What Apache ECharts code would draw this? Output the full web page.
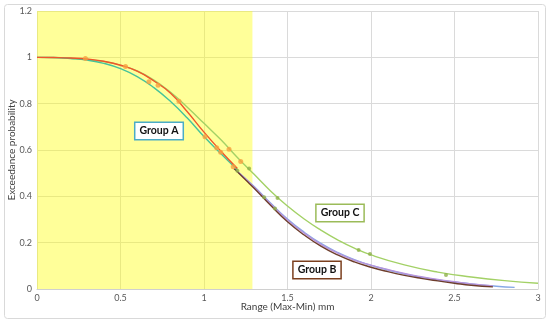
<!DOCTYPE html>
<html><head><meta charset="utf-8">
<script src="https://cdn.jsdelivr.net/npm/echarts@6/dist/echarts.min.js"></script>
<style>html,body{margin:0;padding:0;background:#fff}#c{width:550px;height:325px}</style>
</head><body><div id="c"></div>
<script>
// ---- data ----
const xTicks = [0, 0.5, 1, 1.5, 2, 2.5, 3];
const yTicks = [0, 0.2, 0.4, 0.6, 0.8, 1, 1.2];
const shadedRange = [0, 1.29];

const groupAFitX = [0, 0.1, 0.2, 0.3, 0.4, 0.5, 0.6, 0.7, 0.8, 0.9, 1.0, 1.1, 1.2];
const groupAFitY = [1, 0.999, 0.997, 0.993, 0.983, 0.966, 0.94, 0.898, 0.845, 0.765, 0.677, 0.596, 0.52];
const groupATealX = [0, 0.1, 0.2, 0.3, 0.4, 0.5, 0.6, 0.7, 0.8, 0.9, 1.0, 1.1, 1.2];
const groupATealY = [1, 0.999, 0.995, 0.988, 0.974, 0.951, 0.917, 0.869, 0.809, 0.738, 0.658, 0.585, 0.515];
const groupAPointsX = [0.29, 0.53, 0.67, 0.725, 0.85, 1.006, 1.076, 1.1, 1.15, 1.175, 1.22];
const groupAPointsY = [0.995, 0.96, 0.895, 0.88, 0.81, 0.657, 0.61, 0.59, 0.603, 0.528, 0.55];

const groupCFitX = [0, 0.2, 0.4, 0.5, 0.6, 0.7, 0.8, 0.9, 1.0, 1.1, 1.2, 1.3, 1.4, 1.5, 1.6, 1.7, 1.8, 1.9, 2.0, 2.2, 2.4, 2.6, 2.8, 3.0];
const groupCFitY = [1, 0.996, 0.982, 0.966, 0.941, 0.902, 0.849, 0.785, 0.715, 0.645, 0.568, 0.495, 0.422, 0.358, 0.302, 0.254, 0.212, 0.176, 0.147, 0.104, 0.073, 0.052, 0.036, 0.025];
const groupCPointsX = [1.27, 1.44, 1.926, 1.994, 2.449];
const groupCPointsY = [0.52, 0.393, 0.168, 0.151, 0.06];

const groupBDarkX = [1.18, 1.25, 1.3, 1.4, 1.5, 1.6, 1.7, 1.8, 1.9, 2.0, 2.1, 2.2, 2.3, 2.4, 2.5, 2.6, 2.73];
const groupBDarkY = [0.52, 0.47, 0.435, 0.36, 0.29, 0.233, 0.185, 0.147, 0.117, 0.094, 0.075, 0.059, 0.046, 0.035, 0.025, 0.016, 0.009];
const groupBPurpleX = [1.18, 1.3, 1.4, 1.5, 1.6, 1.7, 1.8, 1.9, 2.0, 2.1, 2.2, 2.3, 2.4, 2.5, 2.6, 2.73];
const groupBPurpleY = [0.52, 0.44, 0.367, 0.298, 0.241, 0.193, 0.155, 0.125, 0.103, 0.084, 0.067, 0.053, 0.041, 0.031, 0.022, 0.013];
const groupBBlueX = [1.18, 1.3, 1.4, 1.5, 1.6, 1.7, 1.8, 1.9, 2.0, 2.2, 2.4, 2.6, 2.75, 2.86];
const groupBBlueY = [0.52, 0.442, 0.37, 0.302, 0.245, 0.197, 0.158, 0.127, 0.102, 0.065, 0.039, 0.022, 0.012, 0.007];
const groupBPointsX = [1.2, 1.36, 1.425];
const groupBPointsY = [0.51, 0.396, 0.348];

const labels = [
  {text: 'Group A', x: 0.73, y: 0.684, color: '#4bacc6'},
  {text: 'Group C', x: 1.817, y: 0.327, color: '#9bbb59'},
  {text: 'Group B', x: 1.679, y: 0.082, color: '#7b3f1e'}
];

const zip = (xs, ys) => xs.map((x, i) => [x, ys[i]]);

const chart = echarts.init(document.getElementById('c'));
const FONT = 'Lato';
const lineSeries = (name, xs, ys, color, z) => ({
  name, type: 'line', data: zip(xs, ys), smooth: true, showSymbol: false, z: z || 3,
  lineStyle: {color, width: 1.4}, itemStyle: {color}
});
const pointSeries = (name, xs, ys, color, size) => ({
  name, type: 'scatter', data: zip(xs, ys), symbol: 'circle', symbolSize: size || 4, z: 5,
  itemStyle: {color}
});

chart.setOption({
  animation: false,
  textStyle: {fontFamily: FONT},
  grid: {left: 37, right: 12, top: 11, bottom: 36, containLabel: false, outerBoundsMode: 'none'},
  xAxis: {
    type: 'value', min: xTicks[0], max: xTicks[xTicks.length - 1], interval: 0.5,
    name: 'Range (Max-Min) mm', nameLocation: 'middle', nameGap: 13, nameMoveOverlap: false,
    nameTextStyle: {fontSize: 10, color: '#404040', fontFamily: FONT},
    axisLine: {lineStyle: {color: '#d0d0d0'}}, axisTick: {show: false},
    axisLabel: {fontSize: 9, color: '#595959', margin: 5, formatter: v => String(v)},
    splitLine: {show: true, lineStyle: {color: '#dadada'}}
  },
  yAxis: {
    type: 'value', min: yTicks[0], max: yTicks[yTicks.length - 1], interval: 0.2,
    name: 'Exceedance probability', nameLocation: 'middle', nameGap: 20, nameRotate: 90, nameMoveOverlap: false,
    nameTextStyle: {fontSize: 10, color: '#404040', fontFamily: FONT},
    axisLine: {show: false}, axisTick: {show: false},
    axisLabel: {fontSize: 9, color: '#595959', margin: 5, formatter: v => String(Math.round(v * 10) / 10)},
    splitLine: {show: true, lineStyle: {color: '#dadada'}}
  },
  series: [
    {
      type: 'line', data: [], z: 1,
      markArea: {silent: true, itemStyle: {color: 'rgba(255,255,0,0.4)'},
        data: [[{xAxis: shadedRange[0]}, {xAxis: shadedRange[1]}]]}
    },
    lineSeries('C fit', groupCFitX, groupCFitY, '#a3d166', 3),
    lineSeries('B blue', groupBBlueX, groupBBlueY, '#86a8e6', 3),
    lineSeries('B purple', groupBPurpleX, groupBPurpleY, '#b794dc', 3),
    lineSeries('B dark', groupBDarkX, groupBDarkY, '#6e3d2c', 3),
    lineSeries('A teal', groupATealX, groupATealY, '#46c39a', 3),
    lineSeries('A fit', groupAFitX, groupAFitY, '#f0552a', 4),
    pointSeries('A data', groupAPointsX, groupAPointsY, '#f7a040', 5),
    pointSeries('C data', groupCPointsX, groupCPointsY, '#8eb04a', 4),
    pointSeries('B data', groupBPointsX, groupBPointsY, '#8eb04a', 4)
  ]
});

const g = [{
  type: 'rect', shape: {x: 4.5, y: 4.5, width: 541, height: 314, r: 3},
  style: {fill: 'none', stroke: '#d9d9d9', lineWidth: 1}, z: -1, silent: true
}];
labels.forEach(l => {
  const p = chart.convertToPixel({gridIndex: 0}, [l.x, l.y]);
  g.push({
    type: 'text', x: Math.round(p[0]), y: Math.round(p[1]), z: 100,
    style: {
      text: l.text, font: 'bold 10.5px ' + FONT, fill: '#111', align: 'center', verticalAlign: 'middle',
      backgroundColor: '#fff', borderColor: l.color, borderWidth: 1.5, padding: [3, 4, 2, 4]
    }
  });
});
chart.setOption({graphic: g});
</script></body></html>
